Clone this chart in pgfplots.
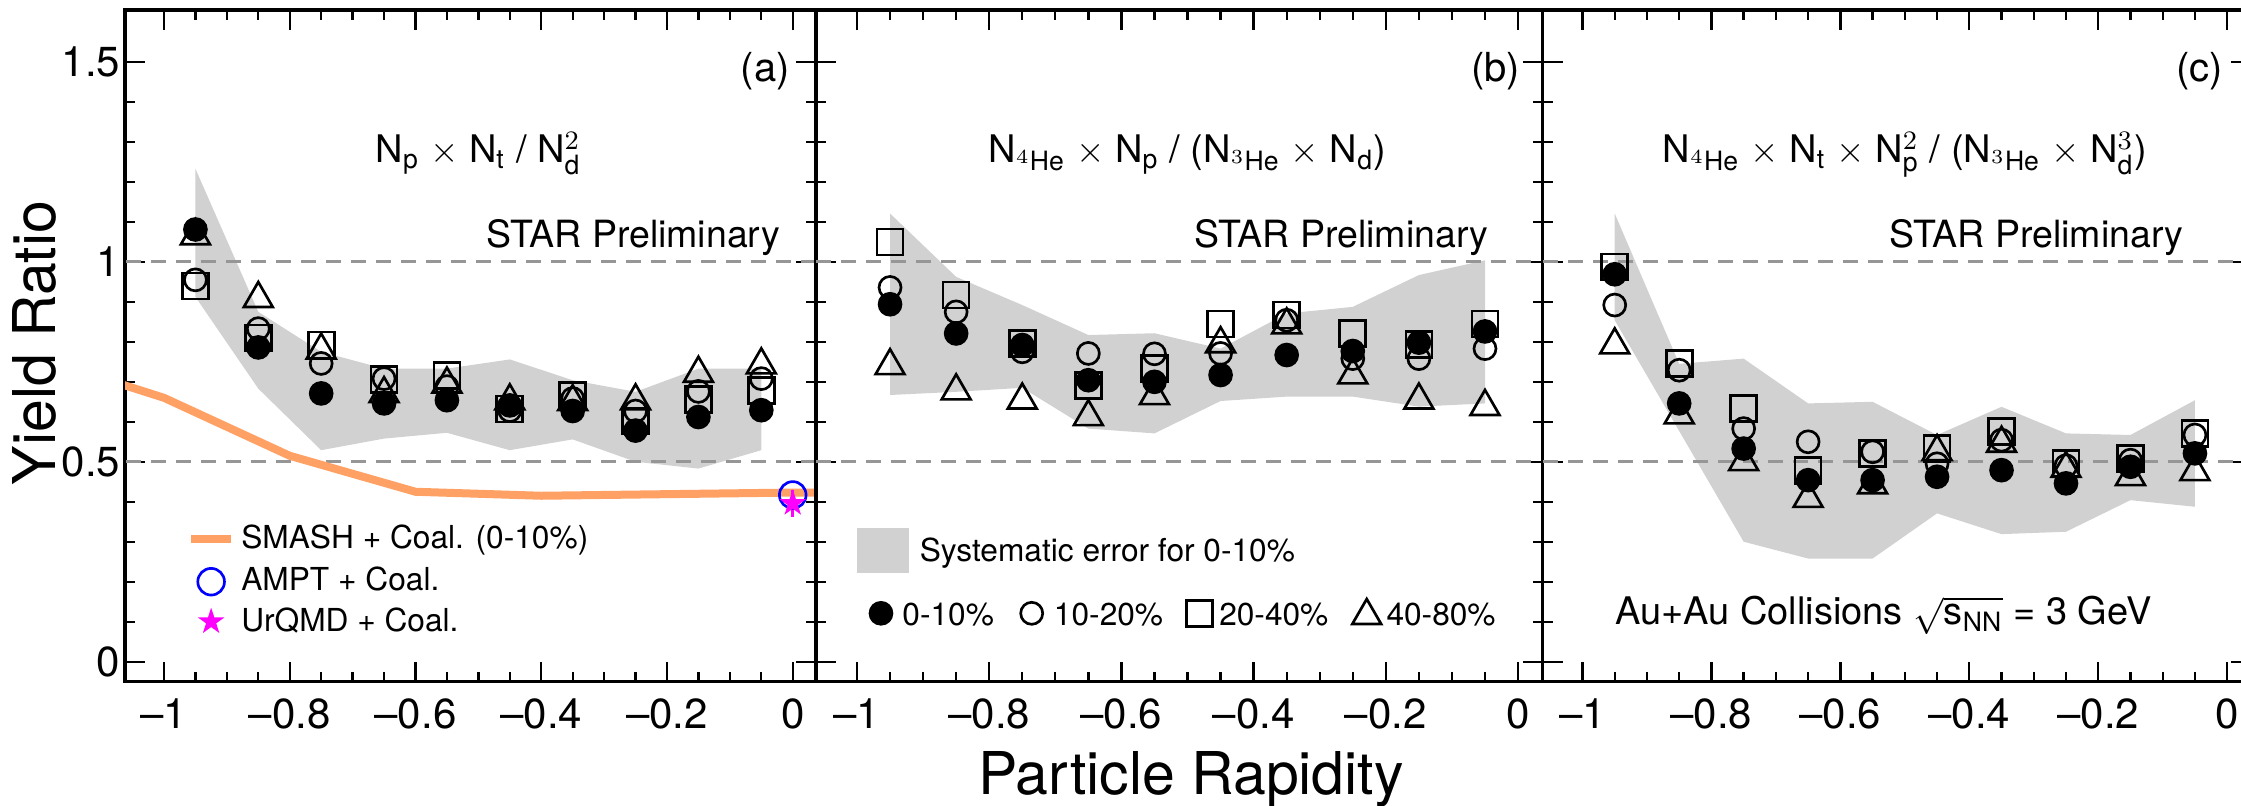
\documentclass[border=0pt]{standalone}
\usepackage{pgfplots}
\pgfplotsset{compat=1.18}
\usepackage{pgfplotstable}
\usepackage{fontspec}
\setmainfont{TeX Gyre Heros}
\definecolor{bandgray}{gray}{0.82}
\definecolor{smash}{RGB}{255,160,100}
\definecolor{dashgray}{RGB}{150,150,150}
\definecolor{mag}{RGB}{255,0,255}

\pgfdeclareplotmark{fstar}{%
  \pgfpathmoveto{\pgfpointpolar{90}{\pgfplotmarksize}}%
  \pgfpathlineto{\pgfpointpolar{126}{0.382\pgfplotmarksize}}%
  \pgfpathlineto{\pgfpointpolar{162}{\pgfplotmarksize}}%
  \pgfpathlineto{\pgfpointpolar{198}{0.382\pgfplotmarksize}}%
  \pgfpathlineto{\pgfpointpolar{234}{\pgfplotmarksize}}%
  \pgfpathlineto{\pgfpointpolar{270}{0.382\pgfplotmarksize}}%
  \pgfpathlineto{\pgfpointpolar{306}{\pgfplotmarksize}}%
  \pgfpathlineto{\pgfpointpolar{342}{0.382\pgfplotmarksize}}%
  \pgfpathlineto{\pgfpointpolar{18}{\pgfplotmarksize}}%
  \pgfpathlineto{\pgfpointpolar{54}{0.382\pgfplotmarksize}}%
  \pgfpathclose\pgfusepathqfill}

% x, 0-10%, 10-20%, 20-40%, 40-80%
\pgfplotstableread{
x      f      o      s      t
-0.95  1.081  0.955  0.940  1.065
-0.85  0.786  0.833  0.810  0.908
-0.75  0.671  0.746  0.792  0.779
-0.65  0.646  0.708  0.705  0.670
-0.55  0.654  0.688  0.715  0.694
-0.45  0.641  0.628  0.632  0.652
-0.35  0.627  0.658  0.666  0.650
-0.25  0.578  0.627  0.602  0.652
-0.15  0.612  0.676  0.655  0.721
-0.05  0.629  0.708  0.679  0.742
}\tabA
\pgfplotstableread{
x      f      o      s      t
-0.95  0.894  0.936  1.050  0.740
-0.85  0.821  0.875  0.917  0.677
-0.75  0.792  0.775  0.796  0.654
-0.65  0.704  0.771  0.690  0.6125
-0.55  0.700  0.770  0.733  0.665
-0.45  0.717  0.771  0.845  0.795
-0.35  0.767  0.854  0.867  0.842
-0.25  0.777  0.758  0.821  0.717
-0.15  0.798  0.758  0.794  0.654
-0.05  0.826  0.783  0.845  0.638
}\tabB
\pgfplotstableread{
x      f      o      s      t
-0.95  0.969  0.892  0.9875 0.792
-0.85  0.646  0.729  0.746  0.617
-0.75  0.533  0.583  0.633  0.500
-0.65  0.454  0.550  0.479  0.408
-0.55  0.454  0.525  0.521  0.442
-0.45  0.4625 0.495  0.533  0.525
-0.35  0.479  0.554  0.575  0.546
-0.25  0.446  0.490  0.496  0.483
-0.15  0.4875 0.504  0.508  0.4625
-0.05  0.521  0.567  0.571  0.475
}\tabC

\pgfplotsset{
  panel/.style={
    scale only axis, height=201.5pt,
    xmin=-1.062, xmax=0.037, ymin=-0.05, ymax=1.63,
    xtick={-1,-0.8,-0.6,-0.4,-0.2,0},
    xticklabels={--1,--0.8,--0.6,--0.4,--0.2,0},
    minor x tick num=3,
    ytick={0,0.5,1,1.5}, minor y tick num=4,
    major tick length=6pt, minor tick length=3pt,
    tick style={line width=0.7pt, black},
    axis line style={line width=1pt},
    tick pos=both,
    ticklabel style={font=\fontsize{12.6}{14}\selectfont},
    xticklabel style={anchor=base, inner sep=0pt, yshift=-14pt},
    yticklabel style={anchor=east, inner sep=0pt, xshift=-1.2pt},
    clip=true,
  },
  mf/.style={only marks, mark=*, mark size=3.5pt, black},
  mo/.style={only marks, mark=o, mark size=3.3pt, black, mark options={line width=0.8pt}},
  ms/.style={only marks, mark=square, mark size=3.9pt, black, mark options={line width=0.8pt}},
  mt/.style={only marks, mark=triangle, mark size=5pt, black, mark options={line width=0.8pt}},
  dline/.style={dashgray, line width=0.9pt, dash pattern=on 4.5pt off 3pt},
}

\newcommand{\ttl}{\fontsize{11.4}{13}\selectfont}
\newcommand{\lbl}{\fontsize{12}{14}\selectfont}
\newcommand{\leg}{\fontsize{9.5}{11}\selectfont}
\newcommand{\sbs}[1]{$_{\mathrm{#1}}$}
\newcommand{\He}[1]{$_{{}^{#1}\mathrm{He}}$}
\newcommand{\tms}{$\times$}

\begin{document}
\begin{tikzpicture}
% ---------------- panel (a)
\begin{axis}[panel, width=207.3pt, at={(37.5pt,37pt)}, anchor=south west,
  yticklabels={0,0.5,1,1.5}]
\addplot[fill=bandgray, draw=none] coordinates {(-0.95,1.233) (-0.85,0.875) (-0.75,0.775) (-0.65,0.733) (-0.55,0.733) (-0.45,0.756) (-0.35,0.704) (-0.25,0.675) (-0.15,0.733) (-0.05,0.733)
 (-0.05,0.529) (-0.15,0.483) (-0.25,0.50) (-0.35,0.556) (-0.45,0.529) (-0.55,0.5725) (-0.65,0.558) (-0.75,0.529) (-0.85,0.683) (-0.95,0.9125)} -- cycle;
\addplot[dline] coordinates {(-1.1,1) (0.1,1)};
\addplot[dline] coordinates {(-1.1,0.5) (0.1,0.5)};
\addplot[smash, line width=2.4pt] coordinates {(-1.07,0.695) (-1.0,0.66) (-0.8,0.515) (-0.6,0.425) (-0.4,0.415) (0.0,0.423) (0.05,0.423)};
\addplot[mf] table[x=x,y=f]{\tabA};
\addplot[mo] table[x=x,y=o]{\tabA};
\addplot[ms] table[x=x,y=s]{\tabA};
\addplot[mt] table[x=x,y=t]{\tabA};
\addplot[only marks, mark=o, blue, mark size=4pt, mark options={line width=0.8pt}] coordinates {(0,0.417)};
\addplot[mag, only marks, mark=fstar, mark size=4.2pt,
  error bars/.cd, y dir=both, y explicit, error mark=none,
  error bar style={line width=1pt, mag}] coordinates {(0,0.396) +- (0,0.033)};
% legend
\addplot[smash, line width=2.4pt] coordinates {(-0.957,0.306) (-0.893,0.306)};
\addplot[only marks, mark=o, blue, mark size=4pt, mark options={line width=0.8pt}] coordinates {(-0.925,0.2)};
\addplot[mag, only marks, mark=fstar, mark size=4.2pt] coordinates {(-0.925,0.1)};
\node[anchor=base west, inner sep=0pt, font=\leg] at (axis cs:-0.878,0.2835) {SMASH + Coal. (0-10\%)};
\node[anchor=base west, inner sep=0pt, font=\leg] at (axis cs:-0.878,0.179) {AMPT + Coal.};
\node[anchor=base west, inner sep=0pt, font=\leg] at (axis cs:-0.878,0.075) {UrQMD + Coal.};
\node[anchor=base east, inner sep=0pt, font=\lbl] at (axis cs:-0.004,1.45) {(a)};
\node[anchor=base, inner sep=0pt, font=\ttl] at (axis cs:-0.5,1.248) {N\sbs{p} \tms{} N\sbs{t} / N$_{\mathrm{d}}^{2}$};
\node[anchor=base east, inner sep=0pt, font=\fontsize{11.25}{13}\selectfont] at (axis cs:-0.019,1.037) {STAR Preliminary};
\end{axis}
% ---------------- panel (b)
\begin{axis}[panel, width=217.95pt, at={(244.8pt,37pt)}, anchor=south west,
  yticklabels={}]
\addplot[fill=bandgray, draw=none] coordinates {(-0.95,1.121) (-0.85,0.9625) (-0.75,0.892) (-0.65,0.817) (-0.55,0.8215) (-0.45,0.783) (-0.35,0.871) (-0.25,0.8875) (-0.15,0.967) (-0.05,1.004)
 (-0.05,0.646) (-0.15,0.638) (-0.25,0.663) (-0.35,0.663) (-0.45,0.652) (-0.55,0.571) (-0.65,0.583) (-0.75,0.685) (-0.85,0.675) (-0.95,0.667)} -- cycle;
\addplot[dline] coordinates {(-1.1,1) (0.1,1)};
\addplot[dline] coordinates {(-1.1,0.5) (0.1,0.5)};
\addplot[mf] table[x=x,y=f]{\tabB};
\addplot[mo] table[x=x,y=o]{\tabB};
\addplot[ms] table[x=x,y=s]{\tabB};
\addplot[mt] table[x=x,y=t]{\tabB};
% legend
\addplot[fill=bandgray, draw=none] coordinates {(-1,0.2225) (-0.9216,0.2225) (-0.9216,0.3335) (-1,0.3335)} -- cycle;
\node[anchor=base west, inner sep=0pt, font=\leg] at (axis cs:-0.906,0.25) {Systematic error for 0-10\%};
\addplot[mf] coordinates {(-0.9637,0.121)};
\addplot[mo] coordinates {(-0.7357,0.121)};
\addplot[ms] coordinates {(-0.4823,0.121)};
\addplot[mt] coordinates {(-0.2289,0.115)};
\node[anchor=base west, inner sep=0pt, font=\leg] at (axis cs:-0.9323,0.09) {0-10\%};
\node[anchor=base west, inner sep=0pt, font=\leg] at (axis cs:-0.703,0.09) {10-20\%};
\node[anchor=base west, inner sep=0pt, font=\leg] at (axis cs:-0.453,0.09) {20-40\%};
\node[anchor=base west, inner sep=0pt, font=\leg] at (axis cs:-0.2,0.09) {40-80\%};
\node[anchor=base east, inner sep=0pt, font=\lbl] at (axis cs:0.004,1.45) {(b)};
\node[anchor=base, inner sep=0pt, font=\ttl] at (axis cs:-0.5,1.248) {N\He{4} \tms{} N\sbs{p} / (N\He{3} \tms{} N\sbs{d})};
\node[anchor=base east, inner sep=0pt, font=\fontsize{11.25}{13}\selectfont] at (axis cs:-0.044,1.037) {STAR Preliminary};
\end{axis}
% ---------------- panel (c)
\begin{axis}[panel, width=212.55pt, at={(462.75pt,37pt)}, anchor=south west,
  yticklabels={}]
\addplot[fill=bandgray, draw=none] coordinates {(-0.95,1.121) (-0.85,0.745) (-0.75,0.758) (-0.65,0.646) (-0.55,0.65) (-0.45,0.567) (-0.35,0.6375) (-0.25,0.571) (-0.15,0.567) (-0.05,0.654)
 (-0.05,0.3875) (-0.15,0.404) (-0.25,0.325) (-0.35,0.319) (-0.45,0.371) (-0.55,0.258) (-0.65,0.258) (-0.75,0.30) (-0.85,0.577) (-0.95,0.854)} -- cycle;
\addplot[dline] coordinates {(-1.1,1) (0.1,1)};
\addplot[dline] coordinates {(-1.1,0.5) (0.1,0.5)};
\addplot[mf] table[x=x,y=f]{\tabC};
\addplot[mo] table[x=x,y=o]{\tabC};
\addplot[ms] table[x=x,y=s]{\tabC};
\addplot[mt] table[x=x,y=t]{\tabC};
\node[anchor=base west, inner sep=0pt, font=\ttl] at (axis cs:-0.95,0.092) {Au+Au Collisions $\sqrt{\mathrm{s}_{\mathrm{NN}}}$ = 3 GeV};
\node[anchor=base east, inner sep=0pt, font=\lbl] at (axis cs:-0.005,1.45) {(c)};
\node[anchor=base, inner sep=0pt, font=\ttl] at (axis cs:-0.5,1.248) {N\He{4} \tms{} N\sbs{t} \tms{} N$_{\mathrm{p}}^{2}$ / (N\He{3} \tms{} N$_{\mathrm{d}}^{3}$)};
\node[anchor=base east, inner sep=0pt, font=\fontsize{11.25}{13}\selectfont] at (axis cs:-0.067,1.037) {STAR Preliminary};
\end{axis}
\node[anchor=base, inner sep=0pt, font=\fontsize{17.7}{20}\selectfont] at (357.3pt,3.2pt) {Particle Rapidity};
\node[anchor=base, rotate=90, inner sep=0pt, font=\fontsize{17.7}{20}\selectfont] at (16.5pt,138.6pt) {Yield Ratio};
\pgfresetboundingbox
\path (0,0) rectangle (672.3pt,241.5pt);
\end{tikzpicture}
\end{document}
